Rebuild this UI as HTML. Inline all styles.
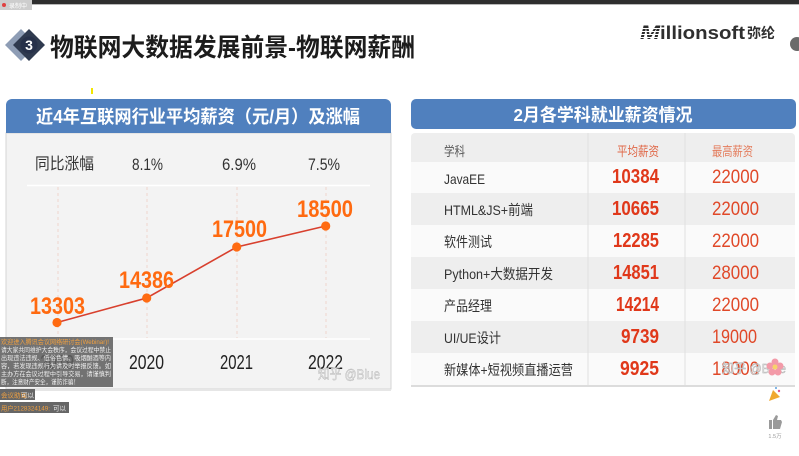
<!DOCTYPE html>
<html lang="zh"><head><meta charset="utf-8"><title>chart</title><style>
html,body{margin:0;padding:0;background:#fff;width:799px;height:456px;overflow:hidden}
svg{display:block}
text{font-family:"Liberation Sans","Noto Sans CJK SC",sans-serif}
</style></head><body>
<svg width="799" height="456" viewBox="0 0 799 456" xmlns="http://www.w3.org/2000/svg">
<rect width="799" height="456" fill="#fff"/>
<rect x="0" y="0" width="799" height="4" fill="#2e2e2e"/>
<rect x="0" y="4" width="799" height="1" fill="#b8b8b8"/>
<rect x="0" y="0" width="32" height="10" fill="#cdcdcd"/>
<circle cx="4" cy="5" r="2" fill="#e04040"/>
<text x="9" y="8" font-size="6" fill="#fff">录制中</text>

<polygon points="21,29 37,45 21,61 5,45" fill="#8e9db5"/>
<polygon points="29,29 45,45 29,61 13,45" fill="#2f3a4f"/>
<circle cx="29" cy="45" r="8.5" fill="#27314a"/>
<text x="29" y="50" font-size="14" font-weight="bold" fill="#fff" text-anchor="middle">3</text>
<text x="50" y="56" font-size="25" font-weight="bold" fill="#1c1c1c" textLength="365" lengthAdjust="spacingAndGlyphs">物联网大数据发展前景-物联网薪酬</text>

<text x="640" y="39" font-size="19" font-weight="bold" font-style="italic" fill="#2a2a2a" textLength="20" lengthAdjust="spacingAndGlyphs">M</text>
<g fill="#fff">
<rect x="638" y="28" width="24" height="1"/>
<rect x="638" y="31" width="24" height="1"/>
<rect x="638" y="34" width="24" height="1"/>
<rect x="638" y="37" width="24" height="1"/>
</g>
<text x="660" y="39" font-size="18" font-weight="bold" fill="#2f2f2f" textLength="85" lengthAdjust="spacingAndGlyphs">illionsoft</text>
<text x="747" y="38" font-size="14" font-weight="bold" fill="#2f2f2f" textLength="28" lengthAdjust="spacingAndGlyphs">弥纶</text>
<circle cx="797" cy="44" r="7" fill="#6a6a6a"/>

<rect x="91" y="88" width="2" height="6" fill="#f2e600"/>

<rect x="6" y="133" width="385" height="256" fill="#f3f3f3" stroke="#d4d4d4" stroke-width="1"/>
<rect x="6" y="389" width="385" height="2" fill="#e6e6e6"/>
<rect x="6" y="99" width="385" height="34" rx="6" fill="#5080be"/>
<rect x="6" y="122" width="385" height="11" fill="#5080be"/>
<text x="198" y="123" font-size="18" font-weight="bold" fill="#fff" text-anchor="middle" textLength="324" lengthAdjust="spacingAndGlyphs">近4年互联网行业平均薪资（元/月）及涨幅</text>

<text x="35" y="169" font-size="16" fill="#333" textLength="59" lengthAdjust="spacingAndGlyphs">同比涨幅</text>
<text x="132" y="170" font-size="17" fill="#333" textLength="31" lengthAdjust="spacingAndGlyphs">8.1%</text>
<text x="222" y="170" font-size="17" fill="#333" textLength="34" lengthAdjust="spacingAndGlyphs">6.9%</text>
<text x="308" y="170" font-size="17" fill="#333" textLength="32" lengthAdjust="spacingAndGlyphs">7.5%</text>

<line x1="27" y1="185.5" x2="370" y2="185.5" stroke="#fff" stroke-width="1.5"/>
<line x1="27" y1="339" x2="370" y2="339" stroke="#fff" stroke-width="1.5"/>
<g stroke="#efd6ce" stroke-width="1" stroke-dasharray="3,3">
<line x1="58" y1="187" x2="58" y2="338"/>
<line x1="147" y1="187" x2="147" y2="338"/>
<line x1="237" y1="187" x2="237" y2="338"/>
<line x1="326" y1="187" x2="326" y2="338"/>
</g>
<polyline points="57,322.5 146.7,298 236.7,247 325.7,226" fill="none" stroke="#d8402e" stroke-width="1.6"/>
<g fill="#ff6b12">
<circle cx="57" cy="322.5" r="4.6"/>
<circle cx="146.7" cy="298" r="4.6"/>
<circle cx="236.7" cy="247" r="4.6"/>
<circle cx="325.7" cy="226" r="4.6"/>
</g>
<g font-size="24" font-weight="bold" fill="#ff6a10">
<text x="30" y="314" textLength="55" lengthAdjust="spacingAndGlyphs">13303</text>
<text x="119" y="288" textLength="55" lengthAdjust="spacingAndGlyphs">14386</text>
<text x="212" y="237" textLength="55" lengthAdjust="spacingAndGlyphs">17500</text>
<text x="297" y="217" textLength="56" lengthAdjust="spacingAndGlyphs">18500</text>
</g>
<g font-size="20" fill="#222">
<text x="40" y="369" textLength="34" lengthAdjust="spacingAndGlyphs">2019</text>
<text x="129" y="369" textLength="35" lengthAdjust="spacingAndGlyphs">2020</text>
<text x="220" y="369" textLength="33" lengthAdjust="spacingAndGlyphs">2021</text>
<text x="308" y="369" textLength="35" lengthAdjust="spacingAndGlyphs">2022</text>
</g>
<text x="318" y="379" font-size="14" fill="#ececec" stroke="#b0b0b0" stroke-width="0.4" textLength="62" lengthAdjust="spacingAndGlyphs">知乎 @Blue</text>

<rect x="0" y="337" width="113" height="50" fill="#606060" fill-opacity="0.88"/>
<g font-size="6.5">
<text x="1" y="344" fill="#f0a040" textLength="108" lengthAdjust="spacingAndGlyphs">欢迎进入腾讯会议网络研讨会(Webinar)!</text>
<text x="1" y="352" fill="#eee" textLength="110" lengthAdjust="spacingAndGlyphs">请大家共同维护大会秩序，会议过程中禁止</text>
<text x="1" y="360" fill="#eee" textLength="110" lengthAdjust="spacingAndGlyphs">出现违法违规、低俗色情、吸烟酗酒等内</text>
<text x="1" y="368" fill="#eee" textLength="110" lengthAdjust="spacingAndGlyphs">容，若发现违规行为请及时举报反馈。如</text>
<text x="1" y="376" fill="#eee" textLength="110" lengthAdjust="spacingAndGlyphs">主办方在会议过程中引导交易，请谨慎判</text>
<text x="1" y="384" fill="#eee" textLength="78" lengthAdjust="spacingAndGlyphs">断，注意财产安全，谨防诈骗！</text>
</g>
<rect x="0" y="389" width="35" height="11" fill="#666"/>
<text x="1" y="397.5" font-size="6.5" fill="#f0a040">会议助理:</text>
<text x="21" y="397.5" font-size="6.5" fill="#eee">可以</text>
<rect x="0" y="402" width="69" height="11" fill="#666"/>
<text x="1" y="410.5" font-size="6.5" fill="#f0a040" textLength="49" lengthAdjust="spacingAndGlyphs">用户2128324149:</text>
<text x="53" y="410.5" font-size="6.5" fill="#eee">可以</text>

<rect x="411" y="99" width="385" height="30" rx="5" fill="#5080be"/>
<text x="603" y="121" font-size="17.5" font-weight="bold" fill="#fff" text-anchor="middle" textLength="179" lengthAdjust="spacingAndGlyphs">2月各学科就业薪资情况</text>

<rect x="411" y="385" width="384" height="2" fill="#dcdcdc"/>
<rect x="411" y="133" width="384" height="252" rx="4" fill="#eeeeee"/>
<g fill="#fafafa">
<rect x="411" y="162" width="384" height="31"/>
<rect x="411" y="225" width="384" height="32"/>
<rect x="411" y="289" width="384" height="32"/>
<rect x="411" y="353" width="384" height="32"/>
</g>
<line x1="588" y1="133" x2="588" y2="385" stroke="#e0e0e0"/>
<line x1="685" y1="133" x2="685" y2="385" stroke="#e0e0e0"/>

<text x="444" y="156" font-size="13" fill="#555" textLength="21" lengthAdjust="spacingAndGlyphs">学科</text>
<text x="617" y="156" font-size="13" fill="#e06848" textLength="42" lengthAdjust="spacingAndGlyphs">平均薪资</text>
<text x="712" y="156" font-size="13" fill="#e47c5c" textLength="41" lengthAdjust="spacingAndGlyphs">最高薪资</text>

<g font-size="14" fill="#333">
<text x="444" y="184" textLength="41" lengthAdjust="spacingAndGlyphs">JavaEE</text>
<text x="444" y="215" textLength="89" lengthAdjust="spacingAndGlyphs">HTML&amp;JS+前端</text>
<text x="444" y="247" textLength="48" lengthAdjust="spacingAndGlyphs">软件测试</text>
<text x="444" y="279" textLength="109" lengthAdjust="spacingAndGlyphs">Python+大数据开发</text>
<text x="444" y="311" textLength="48" lengthAdjust="spacingAndGlyphs">产品经理</text>
<text x="444" y="343" textLength="57" lengthAdjust="spacingAndGlyphs">UI/UE设计</text>
<text x="444" y="375" textLength="129" lengthAdjust="spacingAndGlyphs">新媒体+短视频直播运营</text>
</g>
<g font-size="20" font-weight="bold" fill="#e0381a" text-anchor="end">
<text x="659" y="183" textLength="47" lengthAdjust="spacingAndGlyphs">10384</text>
<text x="659" y="215" textLength="47" lengthAdjust="spacingAndGlyphs">10665</text>
<text x="659" y="247" textLength="46" lengthAdjust="spacingAndGlyphs">12285</text>
<text x="659" y="279" textLength="46" lengthAdjust="spacingAndGlyphs">14851</text>
<text x="659" y="311" textLength="43" lengthAdjust="spacingAndGlyphs">14214</text>
<text x="659" y="343" textLength="38" lengthAdjust="spacingAndGlyphs">9739</text>
<text x="659" y="375" textLength="39" lengthAdjust="spacingAndGlyphs">9925</text>
</g>
<g font-size="19" fill="#e04828">
<text x="712" y="183" textLength="47" lengthAdjust="spacingAndGlyphs">22000</text>
<text x="712" y="215" textLength="47" lengthAdjust="spacingAndGlyphs">22000</text>
<text x="712" y="247" textLength="47" lengthAdjust="spacingAndGlyphs">22000</text>
<text x="712" y="279" textLength="47" lengthAdjust="spacingAndGlyphs">28000</text>
<text x="712" y="311" textLength="47" lengthAdjust="spacingAndGlyphs">22000</text>
<text x="712" y="343" textLength="45" lengthAdjust="spacingAndGlyphs">19000</text>
<text x="712" y="375" textLength="47" lengthAdjust="spacingAndGlyphs">18000</text>
</g>
<text x="722" y="373" font-size="13" fill="#e4e4e4" stroke="#a8a8a8" stroke-width="0.4" textLength="64" lengthAdjust="spacingAndGlyphs">知乎 @Blue</text>

<circle cx="775" cy="362" r="3.5" fill="#f39aa8"/>
<circle cx="780" cy="366" r="3.5" fill="#f39aa8"/>
<circle cx="778" cy="372" r="3.5" fill="#f39aa8"/>
<circle cx="772" cy="372" r="3.5" fill="#f39aa8"/>
<circle cx="770" cy="366" r="3.5" fill="#f39aa8"/>
<circle cx="775" cy="367" r="2.5" fill="#f7d36a"/>
<polygon points="769,401 773,390 780,397" fill="#f0a830"/>
<circle cx="779" cy="391" r="1.2" fill="#e05a8a"/>
<circle cx="776" cy="388" r="1" fill="#5aa0e0"/>
<rect x="769" y="420" width="3" height="9" fill="#9a9a9a"/>
<polygon points="773,420 776,415 778,416 777,420 781,420 782,422 780,429 773,429" fill="#9a9a9a"/>
<text x="775" y="438" font-size="5.5" fill="#999" text-anchor="middle">1.5万</text>
</svg>
</body></html>
